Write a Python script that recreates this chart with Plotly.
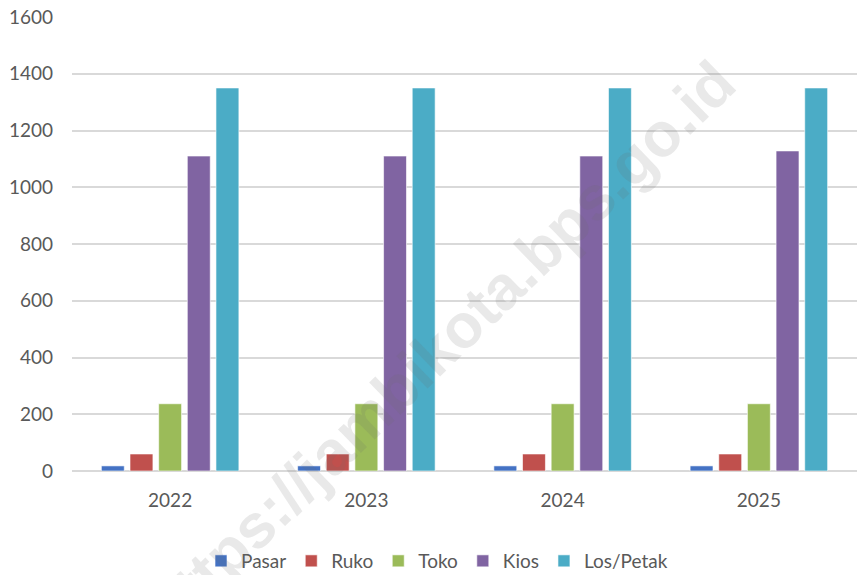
import plotly.graph_objects as go

years = ["2022", "2023", "2024", "2025"]
pasar = [18, 18, 18, 18]
ruko = [60, 60, 60, 60]
toko = [237, 237, 237, 237]
kios = [1110, 1110, 1110, 1128]
los_petak = [1350, 1350, 1350, 1350]

series = [
    ("Pasar", pasar, "#4472C4"),
    ("Ruko", ruko, "#C0504D"),
    ("Toko", toko, "#9BBB59"),
    ("Kios", kios, "#8064A2"),
    ("Los/Petak", los_petak, "#4BACC6"),
]

W, H = 857, 575
TOP, LEFT, BOTTOM = 17, 72, 104
plot_w, plot_h = W - LEFT, H - TOP - BOTTOM

fig = go.Figure()
for name, vals, color in series:
    fig.add_trace(go.Bar(
        x=years, y=vals, name=name,
        marker=dict(color=color, line=dict(color="rgba(255,255,255,0.6)", width=1)),
    ))

fig.update_layout(
    width=W, height=H,
    margin=dict(l=LEFT, r=0, t=TOP, b=BOTTOM, autoexpand=False),
    paper_bgcolor="white", plot_bgcolor="white",
    barmode="group", bargap=0.27, bargroupgap=0.2,
    font=dict(family="Lato, 'Open Sans', sans-serif", size=19, color="#595959"),
    showlegend=True,
    legend=dict(orientation="h", x=0.465, xanchor="center",
                y=-(561 - (H - BOTTOM)) / plot_h, yanchor="middle",
                font=dict(size=19, color="#595959"), itemwidth=30, traceorder="normal"),
    xaxis=dict(showgrid=False, showline=False, ticks="", tickfont=dict(size=19),
               ticklabelstandoff=16),
    yaxis=dict(range=[0, 1600], dtick=200, showgrid=True, gridcolor="#D9D9D9", gridwidth=2,
               zeroline=True, zerolinecolor="#D9D9D9", zerolinewidth=2,
               showline=False, ticks="", ticklabelstandoff=18, tickfont=dict(size=19)),
)

# faint diagonal web-address watermark over the bars
fig.add_annotation(
    text="<b>https://jambikota.bps.go.id</b>", xref="paper", yref="paper",
    x=(440 - LEFT) / plot_w, y=(H - BOTTOM - 346) / plot_h, xanchor="center", yanchor="middle",
    showarrow=False, textangle=-44,
    font=dict(family="'Liberation Sans', Arial, sans-serif", size=62,
              color="rgba(110,110,110,0.15)"),
)

fig.write_html("out.html")
